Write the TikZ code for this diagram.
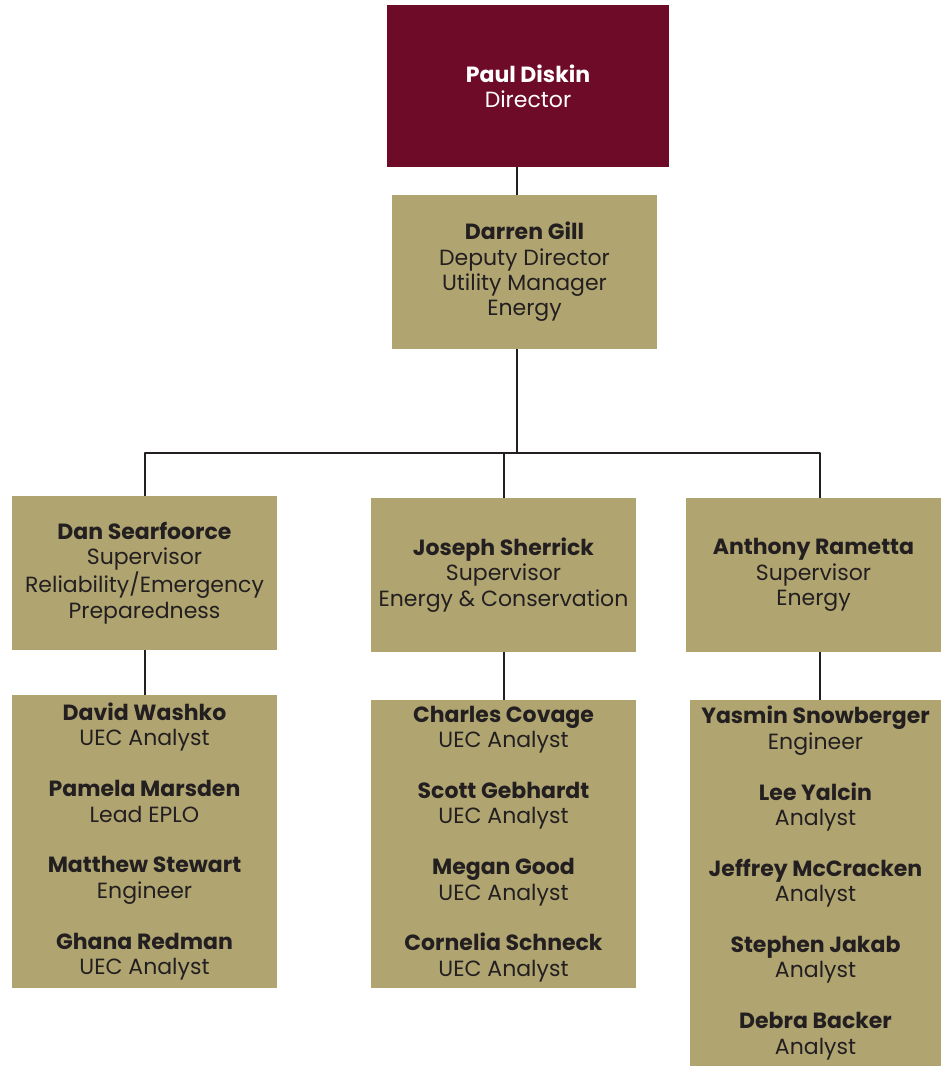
\documentclass[tikz,border=0pt]{standalone}
\usepackage{fontspec}
\setmainfont{Poppins}
\definecolor{maroon}{HTML}{6E0B29}
\definecolor{khaki}{HTML}{B0A571}
\definecolor{ink}{HTML}{231F20}
\begin{document}
\begin{tikzpicture}[x=0.5pt, y=-0.5pt, font=\fontsize{11}{12.7}\selectfont, line join=round,
    box/.style={fill=khaki, text=ink, align=center, inner sep=0pt, minimum width=132.5pt},
    head/.style={box, fill=maroon, text=white, minimum width=141pt, minimum height=81pt},
    chief/.style={box, minimum height=77pt},
    team/.style={box},
    link/.style={draw=ink, line width=1pt}]
    \useasboundingbox (0,0) rectangle (942,1066);
    % director and deputy
    \node[head] (paul) at (528,86) {\textbf{Paul Diskin}\\Director};
    \node[chief] (darren) at (524.5,272) {\textbf{Darren Gill}\\Deputy Director\\Utility Manager\\Energy};
    % supervisors
    \node[chief] (dan) at (144.5,573) {\textbf{Dan Searfoorce}\\Supervisor\\Reliability/Emergency\\Preparedness};
    \node[chief] (joseph) at (503.5,575) {\textbf{Joseph Sherrick}\\Supervisor\\Energy \& Conservation};
    \node[chief, minimum width=127.5pt] (anthony) at (813.5,575) {\textbf{Anthony Rametta}\\Supervisor\\Energy};
    % teams
    \node[team, minimum height=146.5pt] (danteam) at (144.5,841.5) {\textbf{David Washko}\\UEC Analyst\\[12.7pt]
        \textbf{Pamela Marsden}\\Lead EPLO\\[12.7pt]
        \textbf{Matthew Stewart}\\Engineer\\[12.7pt]
        \textbf{Ghana Redman}\\UEC Analyst};
    \node[team, minimum height=144pt] (josephteam) at (503.5,844) {\textbf{Charles Covage}\\UEC Analyst\\[12.7pt]
        \textbf{Scott Gebhardt}\\UEC Analyst\\[12.7pt]
        \textbf{Megan Good}\\UEC Analyst\\[12.7pt]
        \textbf{Cornelia Schneck}\\UEC Analyst};
    \node[team, minimum width=125.5pt, minimum height=183pt] (anthonyteam) at (815.5,883) {\textbf{Yasmin Snowberger}\\Engineer\\[12.7pt]
        \textbf{Lee Yalcin}\\Analyst\\[12.7pt]
        \textbf{Jeffrey McCracken}\\Analyst\\[12.7pt]
        \textbf{Stephen Jakab}\\Analyst\\[12.7pt]
        \textbf{Debra Backer}\\Analyst};
    % connectors
    \coordinate (trunk) at (517,453);
    \draw[link] (paul.south -| trunk)--(darren.north -| trunk);
    \draw[link] (darren.south -| trunk)--(trunk);
    \draw[link] (dan.north)|-(trunk);
    \draw[link] (joseph.north)|-(trunk);
    \draw[link] ([xshift=3.25pt]anthony.north)|-(trunk);
    \draw[link] (dan.south)--(danteam.north);
    \draw[link] (joseph.south)--(josephteam.north);
    \draw[link] ([xshift=3.25pt]anthony.south)--([xshift=2.25pt]anthonyteam.north);
\end{tikzpicture}
\end{document}
